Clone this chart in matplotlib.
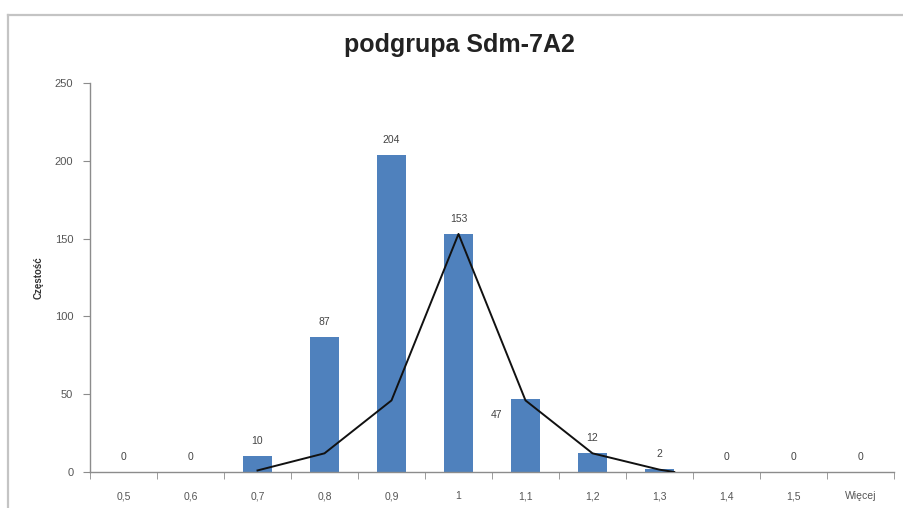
import matplotlib
matplotlib.use("Agg")
import matplotlib.pyplot as plt
from matplotlib.lines import Line2D
from matplotlib.ticker import FixedLocator

plt.rcParams['font.family'] = ['Liberation Sans', 'DejaVu Sans']

# Histogram bins and counts
categories = ["0,5", "0,6", "0,7", "0,8", "0,9", "1", "1,1", "1,2", "1,3", "1,4", "1,5", "Więcej"]
counts = [0, 0, 10, 87, 204, 153, 47, 12, 2, 0, 0, 0]

# Fitted curve drawn over the bars (position on the category axis, value)
curve_x = [2, 3, 4, 5, 6, 7, 8, 8.22]
curve_y = [1, 12, 46, 153, 46, 12, 1.5, 0]

y_ticks = [0, 50, 100, 150, 200, 250]

W, H = 904, 508
fig = plt.figure(figsize=(W / 100, H / 100), dpi=100)
fig.patch.set_facecolor("white")

ax = fig.add_axes([90 / W, 36 / H, 804 / W, 389 / H])
x = list(range(len(categories)))
ax.bar(x, counts, width=0.42, color="#4F81BD", zorder=2)
ax.plot(curve_x, curve_y, color="#111111", lw=1.4, zorder=3)

ax.set_xlim(-0.5, len(categories) - 0.5)
ax.set_ylim(0, 250)

axis_col = "#8c8c8c"
for side in ("top", "right"):
    ax.spines[side].set_visible(False)
for side in ("left", "bottom"):
    ax.spines[side].set_color(axis_col)
    ax.spines[side].set_linewidth(1.0)

ax.set_yticks(y_ticks)
ax.tick_params(axis="y", direction="out", length=5, color=axis_col,
               labelsize=8, labelcolor="#555555", pad=7)
ax.set_xticks(x)
ax.set_xticklabels(categories)
ax.tick_params(axis="x", which="major", length=0, labelsize=7.5,
               labelcolor="#555555", pad=14)
ax.xaxis.set_minor_locator(FixedLocator([i - 0.5 for i in range(len(categories) + 1)]))
ax.tick_params(axis="x", which="minor", direction="out", length=5, color=axis_col)

ax.set_ylabel("Częstość", fontsize=7, fontweight="bold", color="#333333")
ax.yaxis.set_label_coords(-46 / 804, 0.5)

# Value labels above each bar
for i, v in enumerate(counts):
    if categories[i] == "1,1":
        ax.annotate(str(v), (i, v), xytext=(-29, -16), textcoords="offset pixels",
                    ha="center", va="center", fontsize=7.5, color="#444444")
    else:
        ax.annotate(str(v), (i, v), xytext=(0, 15), textcoords="offset pixels",
                    ha="center", va="center", fontsize=7.5, color="#444444")

fig.text(459 / W, 1 - 45 / H, "podgrupa Sdm-7A2", ha="center", va="center",
         fontsize=18, fontweight="bold", color="#222222")

# Chart frame edges
frame_col = "#c4c4c4"
fig.add_artist(Line2D([8 / W, 1], [1 - 15 / H, 1 - 15 / H], color=frame_col, lw=1.6,
                      transform=fig.transFigure))
fig.add_artist(Line2D([8 / W, 8 / W], [0, 1 - 15 / H], color=frame_col, lw=1.6,
                      transform=fig.transFigure))

fig.savefig("out.png", dpi=100, facecolor="white")
